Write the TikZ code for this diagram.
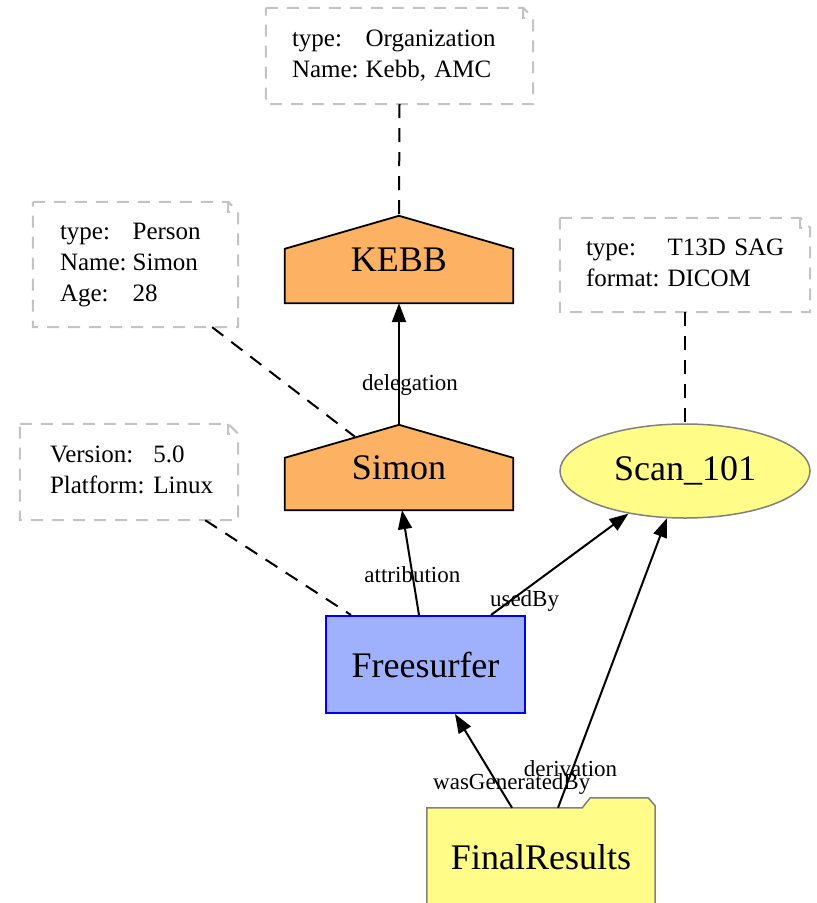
\documentclass[tikz,border=0pt]{standalone}
\usepackage{fontspec}
\setmainfont{Liberation Serif}
\usetikzlibrary{arrows.meta,calc,shapes.geometric}
\pgfdeclarelayer{background}
\pgfsetlayers{background,main}
\definecolor{agentfill}{HTML}{FCB163}
\definecolor{actfill}{HTML}{9FB1FC}
\definecolor{entfill}{HTML}{FFFC87}
\definecolor{notegray}{HTML}{C4C4C4}
\newcommand\notepath[1]{(#1.north west) -- ($(#1.north east)+(-10,0)$) -- ($(#1.north east)+(0,10)$) -- (#1.south east) -- (#1.south west) -- cycle
  ($(#1.north east)+(-10,0)$) -- ($(#1.north east)+(-10,10)$) -- ($(#1.north east)+(0,10)$)}
\newcommand\housepath[1]{(#1.north) -- ($(#1.north west)+(0,33)$) -- (#1.south west) -- (#1.south east) -- ($(#1.north east)+(0,33)$) -- cycle}
\newcommand\folderpath[1]{(#1.north west) -- ($(#1.north east)+(-73,0)$) -- ($(#1.north east)+(-65,-10)$) -- ($(#1.north east)+(-7,-10)$) -- ($(#1.north east)+(0,-2)$) -- (#1.south east) -- (#1.south west) -- cycle}
\tikzset{
  notebox/.style={draw=none, inner sep=0pt, align=left, font=\fontsize{25}{31}\selectfont},
  noteline/.style={draw=notegray, line width=2pt, dash pattern=on 12pt off 9pt},
  agentbox/.style={draw=none, inner sep=0pt, minimum width=228pt, font=\fontsize{36}{40}\selectfont},
  agentshape/.style={fill=agentfill, draw=black, line width=1.8pt, line join=miter},
  actbox/.style={rectangle, fill=actfill, draw=blue, line width=2pt, inner sep=0pt, minimum width=199pt, minimum height=97pt, font=\fontsize{36}{40}\selectfont},
  entbox/.style={ellipse, fill=entfill, draw=gray, line width=1.5pt, inner sep=0pt, minimum width=250pt, minimum height=94pt, font=\fontsize{36}{40}\selectfont},
  folderbox/.style={draw=none, inner sep=0pt, minimum width=228pt, minimum height=98pt, font=\fontsize{36}{40}\selectfont},
  foldershape/.style={fill=entfill, draw=gray, line width=1.5pt},
  edge/.style={draw=black, line width=2pt, -{Triangle[length=19pt,width=14pt]}},
  assoc/.style={draw=black, line width=2pt, dash pattern=on 14pt off 10pt},
  elabel/.style={inner sep=0pt, font=\fontsize{23}{26}\selectfont}
}
\begin{document}
\begin{tikzpicture}[x=1pt,y=-1pt]
\useasboundingbox (0,0) rectangle (817,903);
\clip (0,0) rectangle (817,903);
% notes
\node[notebox, minimum width=267pt, minimum height=96pt, text width=215pt] (orgnote) at (399.5,56)
  {\begin{tabular}{@{}l@{\hspace{7pt}}l@{}}type: & Organization\\ Name: & Kebb, AMC\end{tabular}};
\node[notebox, minimum width=205pt, minimum height=125pt, text width=151pt] (personnote) at (135.5,264.5)
  {\begin{tabular}{@{}l@{\hspace{6pt}}l@{}}type: & Person\\ Name: & Simon\\ Age: & 28\end{tabular}};
\node[notebox, minimum width=250pt, minimum height=94pt, text width=198pt] (scannote) at (685,265)
  {\begin{tabular}{@{}l@{\hspace{8pt}}l@{}}type: & T13D SAG\\ format: & DICOM\end{tabular}};
\node[notebox, minimum width=218pt, minimum height=96pt, text width=158pt] (versionnote) at (129,472)
  {\begin{tabular}{@{}l@{\hspace{9pt}}l@{}}Version: & 5.0\\ Platform: & Linux\end{tabular}};
% main nodes
\node[agentbox, minimum height=87pt] (kebb) at (399,259.5) {KEBB};
\node[agentbox, minimum height=85pt] (simon) at (399,467.5) {Simon};
\node[entbox] (scan) at (685,471) {Scan\_101};
\node[actbox] (fs) at (425.5,664.5) {Freesurfer};
\node[folderbox] (fr) at (541,857) {FinalResults};
\begin{pgfonlayer}{background}
  \path[noteline] \notepath{orgnote};
  \path[noteline] \notepath{personnote};
  \path[noteline] \notepath{scannote};
  \path[noteline] \notepath{versionnote};
  \path[agentshape] \housepath{kebb};
  \path[agentshape] \housepath{simon};
  \path[foldershape] \folderpath{fr};
\end{pgfonlayer}
% dashed annotation links
\draw[assoc] (orgnote.south) -- (kebb.north);
\draw[assoc] ($(personnote.south east)+(-26,0)$) -- ($(simon.north)+(-44,12)$);
\draw[assoc] (scannote.south) -- (scan.north);
\draw[assoc] ($(versionnote.south east)+(-33,0)$) -- ($(fs.north west)+(26,0)$);
% relations
\draw[edge] (simon.north) -- node[elabel, pos=0.33, xshift=11pt] (ldeleg) {delegation} (kebb.south);
\draw[edge] ($(fs.north)+(-6.5,0)$) -- node[elabel, pos=0.39] (lattr) {attribution} ($(simon.south)+(3,0)$);
\draw[edge] ($(fs.north east)+(-35,0)$) -- node[elabel, pos=0.135, xshift=15pt] (lused) {usedBy} (scan.217);
\draw[edge] ($(fr.north)+(-29,0)$) -- node[elabel, pos=0.25, xshift=14pt] (lgen) {wasGeneratedBy} ($(fs.south)+(29.5,0)$);
\draw[edge] ($(fr.north)+(17,0)$) -- node[elabel, pos=0.134, xshift=-2pt] (lderiv) {derivation} (scan.249);
\end{tikzpicture}
\end{document}
